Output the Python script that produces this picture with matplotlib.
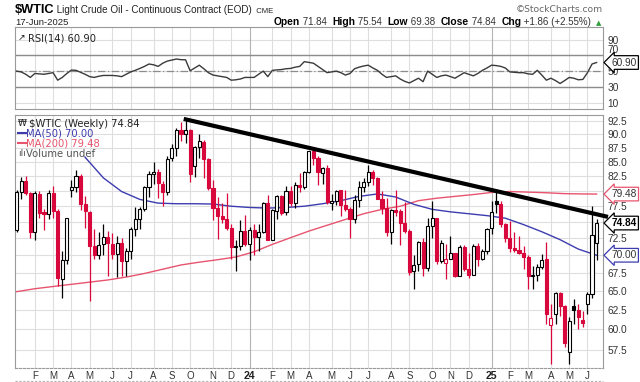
import numpy as np
import pandas as pd
import matplotlib
matplotlib.use('Agg')
import matplotlib.pyplot as plt
from matplotlib.patches import Rectangle
from matplotlib.lines import Line2D
from matplotlib.transforms import IdentityTransform
import matplotlib.ticker as mticker

# ---------------- data (weekly bars, first week starting Monday 2023-01-09) ----------------
first_week = '2023-01-09'
opens = [73.8, 79.9, 81.6, 79.6, 73.4, 79.5, 76.5, 76.3, 79.7, 76.7,
         66.7, 69.3, 80.1, 80.6, 82.5, 77.9, 76.5, 71.3, 70.0, 71.6,
         72.7, 71.7, 70.2, 71.8, 69.2, 70.6, 73.9, 75.4, 77.1, 80.6,
         82.8, 83.2, 81.2, 79.8, 85.6, 87.5, 90.8, 90.0, 90.8, 84.3,
         87.7, 88.5, 85.5, 80.5, 77.2, 76.0, 75.5, 74.1, 71.2, 71.4,
         73.6, 71.6, 73.8, 72.7, 73.4, 78.0, 72.3, 76.8, 79.2, 76.5,
         80.0, 78.0, 81.0, 80.6, 83.2, 86.9, 85.7, 83.1, 83.9, 78.1,
         78.3, 80.1, 77.7, 77.0, 75.5, 78.5, 80.7, 81.5, 83.2, 82.2,
         78.6, 77.2, 73.5, 76.8, 76.7, 74.8, 73.6, 67.7, 68.7, 71.9,
         68.2, 74.4, 75.6, 69.2, 68.9, 69.5, 70.4, 67.0, 71.2, 68.0,
         67.2, 71.3, 69.5, 70.6, 74.0, 78.3, 77.9, 74.7, 72.5, 71.0,
         70.7, 70.4, 69.8, 67.0, 67.2, 68.3, 69.4, 60.5, 62.0, 64.7,
         63.0, 57.3, 63.0, 62.5, 61.2, 63.3, 64.6, 71.84]
highs = [80.1, 82.4, 82.6, 79.8, 80.0, 80.0, 77.0, 80.1, 80.9, 77.0,
         70.6, 75.7, 81.8, 83.5, 82.8, 79.2, 76.7, 73.9, 73.4, 74.7,
         73.6, 73.3, 72.8, 72.6, 71.0, 74.2, 77.3, 77.3, 80.9, 83.3,
         84.9, 83.8, 81.6, 86.0, 88.1, 91.2, 92.4, 92.9, 91.0, 87.8,
         90.0, 89.0, 85.7, 81.9, 79.0, 78.0, 79.7, 74.7, 72.3, 75.3,
         76.1, 74.2, 74.7, 74.7, 78.2, 79.3, 77.0, 79.3, 79.3, 80.8,
         80.9, 81.5, 83.1, 83.4, 87.0, 87.6, 86.0, 84.0, 84.4, 79.5,
         80.1, 80.1, 80.2, 77.4, 79.4, 81.7, 82.1, 84.5, 83.6, 82.4,
         80.0, 78.8, 77.0, 80.2, 77.0, 78.2, 73.9, 70.0, 72.1, 72.5,
         75.6, 78.4, 75.7, 72.2, 71.7, 72.9, 70.4, 71.5, 71.5, 70.4,
         71.7, 71.8, 70.9, 74.1, 78.4, 80.0, 78.3, 74.8, 75.2, 73.5,
         72.9, 71.3, 70.0, 68.4, 68.7, 70.2, 72.0, 63.3, 64.9, 64.9,
         63.1, 61.6, 63.9, 63.3, 62.4, 64.9, 77.6, 75.54]
lows = [73.5, 78.7, 79.3, 72.6, 72.3, 75.6, 73.8, 75.4, 75.7, 65.65,
        64.12, 68.8, 79.0, 79.8, 76.9, 74.0, 63.64, 69.4, 69.4, 70.0,
        67.0, 69.4, 66.9, 67.1, 67.1, 69.5, 72.8, 73.9, 76.7, 79.0,
        81.2, 78.9, 77.6, 79.4, 85.1, 86.1, 88.7, 88.4, 81.5, 82.3,
        85.6, 82.2, 80.1, 75.3, 72.4, 74.8, 73.8, 69.4, 67.7, 70.8,
        71.4, 69.3, 70.1, 70.6, 73.3, 72.2, 72.2, 75.4, 76.1, 76.1,
        77.6, 77.2, 79.9, 80.3, 83.1, 84.4, 81.0, 81.2, 77.8, 76.9,
        77.7, 76.0, 76.7, 72.5, 74.8, 77.3, 79.9, 80.9, 81.0, 78.6,
        76.2, 72.8, 71.7, 75.9, 71.5, 73.3, 67.2, 65.27, 67.7, 67.1,
        67.8, 72.6, 68.7, 68.9, 66.7, 69.4, 66.9, 67.0, 67.8, 66.8,
        67.2, 68.4, 69.3, 70.2, 73.2, 76.4, 74.2, 71.9, 70.5, 70.5,
        70.2, 68.1, 65.2, 65.2, 66.3, 68.1, 60.7, 55.8, 60.7, 61.7,
        57.9, 55.8, 60.7, 60.0, 60.3, 62.0, 64.0, 69.38]
closes = [79.86, 81.64, 79.68, 73.39, 79.72, 76.34, 76.32, 79.68, 76.68, 66.74,
          69.26, 75.67, 80.70, 82.52, 77.87, 76.78, 71.34, 70.04, 71.55, 72.67,
          71.74, 70.17, 71.78, 69.16, 70.64, 73.86, 75.42, 77.07, 80.58, 82.82,
          83.19, 81.25, 79.83, 85.55, 87.51, 90.77, 90.03, 90.79, 82.79, 87.69,
          88.75, 85.54, 80.51, 77.17, 75.89, 75.54, 74.07, 71.23, 71.43, 73.56,
          71.65, 73.81, 72.68, 73.41, 78.01, 72.28, 76.84, 79.19, 76.49, 79.97,
          78.01, 81.04, 80.63, 83.17, 86.91, 85.66, 83.14, 83.85, 78.11, 78.26,
          80.06, 77.72, 76.99, 75.53, 78.45, 80.73, 81.54, 83.16, 82.21, 78.63,
          77.16, 73.52, 76.84, 76.65, 74.83, 73.55, 67.67, 68.65, 71.92, 68.18,
          74.38, 75.56, 69.22, 71.78, 69.49, 70.38, 67.02, 71.24, 68.00, 67.20,
          71.29, 69.46, 70.60, 73.96, 76.57, 77.88, 74.66, 72.53, 71.00, 70.74,
          70.40, 69.76, 67.04, 67.18, 68.28, 69.36, 61.99, 61.50, 64.68, 63.02,
          58.29, 61.02, 62.49, 61.53, 60.79, 64.58, 72.98, 74.84]

ma50_week = [15, 19, 23, 27, 31, 35, 39, 43, 47, 51, 55, 59, 63, 67, 71, 75, 79,
             83, 87, 91, 95, 99, 103, 107, 111, 115, 119, 123, 127]
ma50_vals = [85.8, 82.2, 79.9, 78.6, 78.0, 77.9, 77.9, 77.85, 77.5, 77.3, 77.2, 77.3,
             77.5, 77.9, 78.4, 79.1, 79.5, 79.0, 77.8, 77.0, 76.6, 76.3, 76.0, 75.6,
             74.6, 73.5, 72.3, 70.9, 70.0]
ma200_week = [0, 4, 8, 12, 16, 20, 24, 28, 32, 36, 40, 44, 48, 52, 56, 60, 64, 68,
              72, 76, 80, 84, 88, 92, 96, 100, 104, 108, 112, 116, 120, 124, 127]
ma200_vals = [64.9, 65.3, 65.6, 65.9, 66.2, 66.5, 66.9, 67.4, 68.0, 68.6, 69.0, 69.35,
              69.75, 70.5, 71.6, 72.6, 73.6, 74.5, 75.4, 76.3, 77.0, 77.5, 78.4, 78.8,
              79.1, 79.4, 79.75, 79.9, 79.8, 79.7, 79.55, 79.5, 79.48]

rsi_vals = [50, 49, 46, 42, 47, 46.5, 46, 47, 48, 38.5,
            42, 47, 51.3, 51, 48.5, 46, 43, 42, 43.5, 44.5,
            44.5, 44.5, 44, 43, 46, 49, 51, 53.4, 56, 59,
            58, 56, 60, 62.7, 64, 65.3, 64.5, 64.3, 50.4, 54,
            57.5, 53, 48, 45, 44, 43, 42, 38.5, 39, 40,
            42, 42, 42, 46, 50, 43, 51, 51.5, 52, 53,
            53.4, 55, 56, 62, 61, 60, 56, 52, 48, 49,
            50, 48, 45, 47, 53, 55, 56.5, 57.5, 54, 51,
            46, 42, 43, 44, 40, 37, 35, 38, 41, 36.6,
            50, 46, 42, 44, 45, 43, 41, 44.5, 48, 46,
            44, 47, 51, 54, 57.5, 57, 56, 54, 49, 48.5,
            48, 48, 46.5, 46, 51, 45, 38.5, 41, 38, 34.3,
            38, 42, 41, 39, 39.5, 48, 59, 60.9]

trend_week = [36.6, 129.5]
trend_price = [92.9, 75.8]

price_ticks = [57.5, 60.0, 62.5, 65.0, 67.5, 70.0, 72.5, 75.0, 77.5, 80.0,
               82.5, 85.0, 87.5, 90.0, 92.5]
price_tick_labels = ['57.5', '60.0', '62.5', '65.0', '67.5', '', '72.5', '', '77.5', '',
                     '82.5', '85.0', '87.5', '90.0', '92.5']
rsi_ticks = [10, 30, 50, 70, 90]
month_letters = ['J', 'F', 'M', 'A', 'M', 'J', 'J', 'A', 'S', 'O', 'N', 'D']

last_ma50 = 70.00
last_ma200 = 79.48
last_close = 74.84
last_rsi = 60.90

# ---------------- styling ----------------
RED = '#d8083c'
MA50_C = '#3c3cb0'
MA200_C = '#e8546e'
GRID = '#dedede'
GRID_YEAR = '#b4b4b4'
FONT = 'Liberation Sans'
W, H = 640, 382

fig = plt.figure(figsize=(W / 100, H / 100), dpi=100)
fig.patch.set_facecolor('white')

x_left, x_right = 15.3, 603.0
xmin, xmax = -0.28, 128.4

ax = fig.add_axes([x_left / W, 1 - 368 / H, (x_right - x_left) / W, (368 - 115) / H])
axr = fig.add_axes([x_left / W, 1 - 109 / H, (x_right - x_left) / W, (109 - 27.3) / H])

n = len(closes)
dates = pd.date_range(first_week, periods=n, freq='7D')
tick_pos, tick_lab, tick_year = [], [], []
for i in range(1, n):
    if dates[i].month != dates[i - 1].month:
        tick_pos.append(i)
        if dates[i].month == 1:
            tick_lab.append(dates[i].strftime('%y'))
            tick_year.append(True)
        else:
            tick_lab.append(month_letters[dates[i].month - 1])
            tick_year.append(False)

# ---------- price panel ----------
ax.set_yscale('log')
ax.set_ylim(55.39, 93.66)
ax.set_xlim(xmin, xmax)
for p in price_ticks:
    ax.axhline(p, color=GRID, lw=0.8, zorder=0)
for pos, yr in zip(tick_pos, tick_year):
    ax.axvline(pos, color=GRID_YEAR if yr else GRID, lw=0.8, zorder=0)

ax.plot(ma200_week, ma200_vals, color=MA200_C, lw=1.0, zorder=2)
ax.plot(ma50_week, ma50_vals, color=MA50_C, lw=1.0, zorder=2)

bw = 0.68
for i in range(n):
    o, h, l, c = opens[i], highs[i], lows[i], closes[i]
    up = True if i == 0 else c >= closes[i - 1]
    col = 'black' if up else RED
    hollow = c > o
    ax.vlines(i, l, h, color=col, lw=0.9, zorder=3)
    lo, hi = min(o, c), max(o, c)
    if hi / lo < 1.003:
        hi = lo * 1.003
    ax.add_patch(Rectangle((i - bw / 2, lo), bw, hi - lo,
                           facecolor='white' if hollow else col,
                           edgecolor=col, lw=0.8, zorder=4))

ax.plot(trend_week, trend_price, color='black', lw=3.0, solid_capstyle='butt',
        zorder=6, clip_on=False)

ax.yaxis.tick_right()
ax.set_yticks(price_ticks)
ax.yaxis.set_minor_locator(mticker.NullLocator())
ax.set_yticklabels(price_tick_labels)
ax.tick_params(axis='y', length=0, pad=3, labelsize=7.3, labelcolor='#333333')
for t in ax.get_yticklabels():
    t.set_fontfamily(FONT)
ax.set_xticks(tick_pos)
ax.set_xticklabels(tick_lab)
ax.tick_params(axis='x', length=0, pad=2, labelsize=7, labelcolor='#333333')
for t, yr in zip(ax.get_xticklabels(), tick_year):
    t.set_fontfamily(FONT)
    if yr:
        t.set_fontweight('bold')
        t.set_fontsize(7.6)
        t.set_color('#222222')
for s in ax.spines.values():
    s.set_color('#9a9a9a')
    s.set_linewidth(0.8)
ax.spines['bottom'].set_linestyle((0, (2, 1.5)))

# dotted line below the date labels
fig.add_artist(Line2D([x_left / W, x_right / W], [1 - 380.5 / H, 1 - 380.5 / H],
                      transform=fig.transFigure, color='#b0b0b0', lw=0.8,
                      ls=(0, (2, 1.5))))

# legend texts
leg_font = 'DejaVu Sans'
ax.text(0.024, 0.985, '$WTIC (Weekly) 74.84', transform=ax.transAxes, fontsize=7.2,
        family=leg_font, color='#222222', va='top', ha='left', zorder=7)
ax.plot([0.004, 0.018], [0.928, 0.928], transform=ax.transAxes, color=MA50_C, lw=1.5)
ax.text(0.018, 0.945, 'MA(50) 70.00', transform=ax.transAxes, fontsize=7.2,
        family=leg_font, color=MA50_C, va='top', ha='left', zorder=7)
ax.plot([0.004, 0.018], [0.889, 0.889], transform=ax.transAxes, color=MA200_C, lw=1.5)
ax.text(0.018, 0.906, 'MA(200) 79.48', transform=ax.transAxes, fontsize=7.2,
        family=leg_font, color=MA200_C, va='top', ha='left', zorder=7)
ax.text(0.018, 0.867, 'Volume undef', transform=ax.transAxes, fontsize=7.2,
        family=leg_font, color='#555555', va='top', ha='left', zorder=7)
ax.text(0.004, 0.985, '₩', transform=ax.transAxes, fontsize=6.5,
        family=leg_font, color='#222222', va='top', ha='left', zorder=7)
ax.text(0.004, 0.867, 'ılı', transform=ax.transAxes, fontsize=6.5,
        family=leg_font, color='#555555', va='top', ha='left', zorder=7)

# value tags on the right
def tag(axis, val, text, edge, tcolor, bold=False):
    axis.annotate(text, xy=(1.0, val), xycoords=axis.get_yaxis_transform(),
                  xytext=(6, 0), textcoords='offset points', ha='left', va='center',
                  fontsize=7.3, family=FONT, color=tcolor,
                  fontweight='bold' if bold else 'normal',
                  bbox=dict(boxstyle='larrow,pad=0.18', fc='white', ec=edge, lw=0.9),
                  annotation_clip=False, zorder=8)

tag(ax, last_ma200, f'{last_ma200:.2f}', MA200_C, '#333333')
tag(ax, last_close, f'{last_close:.2f}', 'black', 'black', bold=True)
tag(ax, last_ma50, f'{last_ma50:.2f}', MA50_C, '#333333')

# ---------- RSI panel ----------
axr.set_xlim(xmin, xmax)
axr.set_ylim(2.0, 105.5)
for v in rsi_ticks:
    axr.axhline(v, color=GRID, lw=0.8, zorder=0)
for pos, yr in zip(tick_pos, tick_year):
    axr.axvline(pos, color=GRID_YEAR if yr else GRID, lw=0.8, zorder=0)
axr.axhline(70, color='#8c8c8c', lw=1.0, zorder=1)
axr.axhline(30, color='#8c8c8c', lw=1.0, zorder=1)
axr.axhline(50, color='#8c8c8c', lw=0.9, ls=(0, (6, 2, 1, 2)), zorder=1)
axr.plot(np.arange(len(rsi_vals)), rsi_vals, color='#3a3a3a', lw=1.0, zorder=3)
axr.yaxis.tick_right()
axr.set_yticks(rsi_ticks)
axr.set_yticklabels([str(v) for v in rsi_ticks])
axr.tick_params(axis='y', length=0, pad=3, labelsize=7.3, labelcolor='#333333')
for t in axr.get_yticklabels():
    t.set_fontfamily(FONT)
    if t.get_text() == '70':
        t.set_va('bottom')
axr.set_xticks([])
for s in axr.spines.values():
    s.set_color('#9a9a9a')
    s.set_linewidth(0.8)
axr.text(0.022, 0.93, 'RSI(14) 60.90', transform=axr.transAxes, fontsize=7.2,
         family=leg_font, color='#222222', va='top', ha='left', zorder=7)
axr.text(0.004, 0.93, '↗', transform=axr.transAxes, fontsize=6.5,
         family=leg_font, color='#222222', va='top', ha='left', zorder=7)
tag(axr, last_rsi, f'{last_rsi:.2f}', 'black', '#333333')

# ---------- header ----------
r = fig.canvas.get_renderer()

def seq(x, y, pieces, right=False):
    arts = []
    for s, kw in pieces:
        t = fig.text(0, 0, s, transform=IdentityTransform(), ha='left', va='baseline', **kw)
        arts.append(t)
    widths = [a.get_window_extent(r).width for a in arts]
    cur = x - sum(widths) if right else x
    for a, w in zip(arts, widths):
        a.set_position((cur, H - y))
        cur += w

seq(15, 12.7, [('$WTIC', dict(fontsize=9.2, fontweight='bold', family=FONT, color='black')),
               (' Light Crude Oil - Continuous Contract (EOD)', dict(fontsize=7.1, family=FONT, color='#222222')),
               ('  CME', dict(fontsize=5.6, family=FONT, color='#222222'))])
fig.text(15, H - 25, '17-Jun-2025', transform=IdentityTransform(), fontsize=6.8,
         family=FONT, color='#222222', ha='left', va='baseline')
fig.text(603, H - 11.5, '©StockCharts.com', transform=IdentityTransform(), fontsize=6.6,
         family='DejaVu Sans', color='#666666', ha='right', va='baseline')
B = dict(fontsize=7.4, fontweight='bold', family=FONT, color='black')
R = dict(fontsize=7.0, family=FONT, color='#333333')
seq(594, 25, [('Open', B), (' 71.84  ', R), ('High', B), (' 75.54  ', R), ('Low', B),
              (' 69.38  ', R), ('Close', B), (' 74.84  ', R), ('Chg', B),
              (' +1.86 (+2.55%) ', R)], right=True)
fig.text(601, H - 25, '▲', transform=IdentityTransform(), fontsize=5, family='DejaVu Sans',
         color='#2e9e3a', ha='right', va='baseline')

fig.savefig('out.png', dpi=100, facecolor='white')
